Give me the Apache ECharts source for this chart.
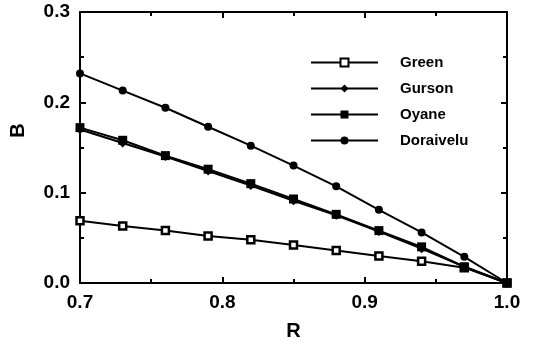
<!DOCTYPE html>
<html>
<head>
<meta charset="utf-8">
<script src="https://cdn.jsdelivr.net/npm/echarts@6/dist/echarts.min.js"></script>
<style>
  html, body { margin: 0; padding: 0; background: #fff; }
  #chart { width: 533px; height: 347px; }
</style>
</head>
<body>
<div id="chart"></div>
<script>
// R values along the x axis
const rValues = [0.70, 0.73, 0.76, 0.79, 0.82, 0.85, 0.88, 0.91, 0.94, 0.97, 1.00];
// B for each model
const green = [0.069, 0.063, 0.058, 0.052, 0.048, 0.042, 0.036, 0.030, 0.024, 0.017, 0];
const gurson = [0.170, 0.155, 0.140, 0.124, 0.108, 0.091, 0.075, 0.057, 0.038, 0.018, 0];
const oyane = [0.172, 0.158, 0.141, 0.126, 0.110, 0.093, 0.076, 0.058, 0.040, 0.018, 0];
const doraivelu = [0.232, 0.213, 0.194, 0.173, 0.152, 0.130, 0.107, 0.081, 0.056, 0.029, 0];

const font = "Liberation Sans";

function pairs(ys) {
  return rValues.map((r, i) => [r, ys[i]]);
}

function frameAxis(pos, isX, showLabel) {
  return {
    type: "value",
    position: pos,
    min: isX ? 0.7 : 0,
    max: isX ? 1.0 : 0.3,
    interval: 0.1,
    axisLine: { show: true, onZero: false, lineStyle: { color: "#000", width: 2 } },
    axisTick: { show: true, inside: true, length: 6, lineStyle: { color: "#000", width: 2 } },
    minorTick: { show: true, splitNumber: 2, length: 4, lineStyle: { color: "#000", width: 2 } },
    splitLine: { show: false },
    axisLabel: {
      show: showLabel,
      color: "#000",
      fontFamily: font,
      fontWeight: "bold",
      fontSize: 19,
      margin: 10,
      formatter: v => v.toFixed(1)
    }
  };
}

const chart = echarts.init(document.getElementById("chart"));

const xMain = frameAxis("bottom", true, true);
xMain.name = "R";
xMain.nameLocation = "middle";
xMain.nameGap = 38;
xMain.nameTextStyle = { color: "#000", fontFamily: font, fontWeight: "bold", fontSize: 20 };

const yMain = frameAxis("left", false, true);
yMain.name = "B";
yMain.nameLocation = "middle";
yMain.nameGap = 52;
yMain.nameTextStyle = { color: "#000", fontFamily: font, fontWeight: "bold", fontSize: 20, padding: [0, 0, 0, 34] };

function line(name, ys, symbol, size, fill) {
  return {
    name: name,
    type: "line",
    data: pairs(ys),
    symbol: symbol,
    symbolSize: size,
    showSymbol: true,
    lineStyle: { color: "#000", width: 2 },
    itemStyle: { color: fill, borderColor: "#000", borderWidth: fill === "#fff" ? 2.5 : 0 },
    emphasis: { disabled: true },
    animation: false
  };
}

chart.setOption({
  backgroundColor: "#fff",
  animation: false,
  grid: { left: 79, right: 26, top: 12, bottom: 64 },
  xAxis: [xMain, frameAxis("top", true, false)],
  yAxis: [yMain, frameAxis("right", false, false)],
  legend: {
    data: ["Green", "Gurson", "Oyane", "Doraivelu"],
    orient: "vertical",
    left: 305,
    top: 50,
    itemWidth: 67,
    itemHeight: 10,
    itemGap: 11,
    selectedMode: false,
    textStyle: { color: "#000", fontFamily: font, fontWeight: "bold", fontSize: 15, padding: [0, 0, 0, 17] }
  },
  series: [
    line("Green", green, "rect", 7, "#fff"),
    line("Doraivelu", doraivelu, "circle", 8, "#000"),
    line("Gurson", gurson, "diamond", 9, "#000"),
    line("Oyane", oyane, "rect", 9, "#000")
  ]
});
</script>
</body>
</html>
